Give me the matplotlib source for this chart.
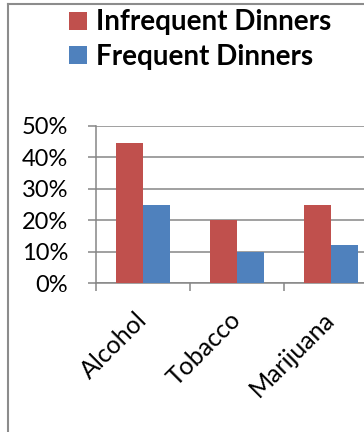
import numpy as np
import matplotlib
matplotlib.use('Agg')
import matplotlib.pyplot as plt
from matplotlib.lines import Line2D
from matplotlib.ticker import PercentFormatter

# data
categories = ['Alcohol', 'Tobacco', 'Marijuana']
infrequent = [44.5, 20, 25]
frequent = [25, 10, 12]
series_names = ['Infrequent Dinners', 'Frequent Dinners']

RED = '#C0504D'
BLUE = '#4F81BD'
GRID = '#868686'

W, H = 364, 432
fig = plt.figure(figsize=(W / 100, H / 100), dpi=100)
plt.rcParams['font.family'] = ['Lato', 'DejaVu Sans']

# plot area runs off the right edge of the picture
left, right, top, bottom = 96, 378, 126, 283
ax = fig.add_axes([left / W, 1 - bottom / H, (right - left) / W, (bottom - top) / H])

x = np.arange(len(categories))
width = 0.29
ax.bar(x - width / 2, infrequent, width, color=RED, label=series_names[0], zorder=3)
ax.bar(x + width / 2, frequent, width, color=BLUE, label=series_names[1], zorder=3)

ax.set_xlim(-0.5, len(categories) - 0.5)
ax.set_ylim(0, 50)
ax.set_yticks(np.arange(0, 51, 10))
ax.yaxis.set_major_formatter(PercentFormatter(decimals=0))
ax.yaxis.grid(True, color=GRID, linewidth=1.1, zorder=0)

# category ticks sit between groups
ax.set_xticks(np.arange(-0.5, len(categories), 1))
ax.set_xticklabels([])
ax.set_xticks(x, minor=True)
ax.set_xticklabels(categories, minor=True, rotation=45, ha='right', va='center',
                   rotation_mode='anchor', fontsize=18)
ax.tick_params(axis='x', which='minor', length=0, pad=24)
ax.tick_params(axis='x', which='major', length=6, color=GRID, width=1.1)
ax.tick_params(axis='y', length=6, color=GRID, width=1.1, labelsize=17, pad=14)

for s in ['top', 'right']:
    ax.spines[s].set_visible(False)
for s in ['left', 'bottom']:
    ax.spines[s].set_color(GRID)
    ax.spines[s].set_linewidth(1.1)

fig.legend(loc='upper left', bbox_to_anchor=(50 / W, 1 + 10 / H), frameon=False,
           prop={'weight': 'bold', 'size': 20}, handlelength=0.62, handleheight=0.62,
           handletextpad=0.32, labelspacing=0.3, borderpad=0.2)

# outer chart border (left and top only visible)
fig.add_artist(Line2D([8 / W, 8 / W], [0, 1 - 4 / H], color='#8c8c8c', linewidth=1.5))
fig.add_artist(Line2D([8 / W, 1], [1 - 4 / H, 1 - 4 / H], color='#8c8c8c', linewidth=1.5))

fig.savefig('out.png', dpi=100)
